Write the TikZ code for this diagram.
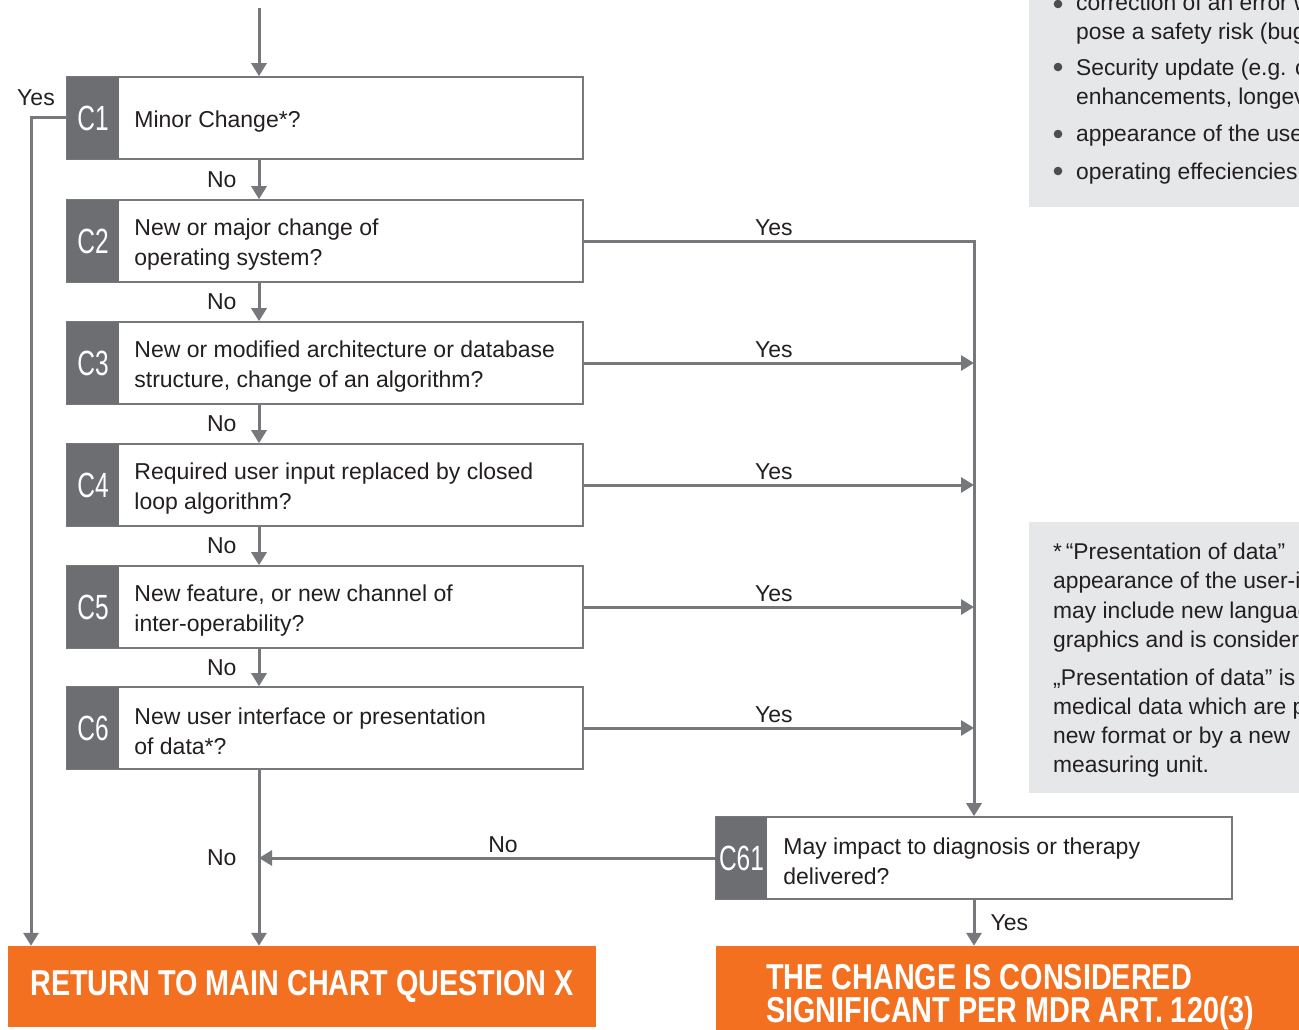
\documentclass[tikz,border=0pt]{standalone}
\usepackage{fontspec}
\setmainfont{Liberation Sans}
\newfontfamily\tagfam{Liberation Sans}[FakeStretch=0.7]
\newfontfamily\bigfam{Liberation Sans}[FakeStretch=0.8]
\usetikzlibrary{arrows.meta,positioning,calc}
\definecolor{ink}{HTML}{231F20}
\definecolor{linegray}{HTML}{77787B}
\definecolor{taggray}{HTML}{6D6E71}
\definecolor{brand}{HTML}{F37021}
\definecolor{boxgray}{HTML}{E6E7E8}
\tikzset{
  qbox/.style={draw=linegray, line width=1.6pt, fill=white, minimum width=516pt, minimum height=82pt, inner sep=0pt},
  tagbox/.style={fill=taggray, minimum width=52pt, minimum height=82pt, inner sep=0pt, text=white, font=\tagfam\fontsize{35pt}{35pt}\selectfont},
  qtext/.style={anchor=west, align=left, inner sep=0pt, text=ink, yshift=-3.5pt, font=\fontsize{23pt}{29.5pt}\selectfont},
  lbl/.style={inner sep=0pt, text=ink, font=\fontsize{23pt}{27pt}\selectfont},
  conn/.style={draw=linegray, line width=3pt, -{Triangle[length=13pt,width=15pt]}},
  outbox/.style={fill=brand, inner sep=0pt, text=white, font=\bigfam\bfseries\fontsize{36pt}{33pt}\selectfont},
  note/.style={anchor=base west, inner sep=0pt, text=ink, font=\fontsize{22.8pt}{29pt}\selectfont},
  dot/.style={fill=ink!80}
}
\begin{document}
\begin{tikzpicture}[x=1pt,y=-1pt]
\useasboundingbox (0,0) rectangle (1299,1030);
\clip (0,0) rectangle (1299,1030);

% side notes
\fill[boxgray] (1029,-10) rectangle (1320,207);
\fill[boxgray] (1029,522) rectangle (1320,793);

\fill[dot] (1058,4) circle (4.3pt);
\node[note] (n1a) at (1076,11) {correction of an error which does not};
\node[note] (n1b) at (1076,40) {pose a safety risk (bug fix)};
\fill[dot] (1058,67) circle (4.3pt);
\node[note] (n2a) at (1076,76) {Security update (e.g. cybersecurity};
\node[note] (n2b) at (1076,105) {enhancements, longevity)};
\fill[dot] (1058,134) circle (4.3pt);
\node[note] (n3) at (1076,142) {appearance of the user interface};
\fill[dot] (1058,171) circle (4.3pt);
\node[note] (n4) at (1076,179) {operating effeciencies};

\node[note] (m1) at (1053,559) {*\,“Presentation of data”\ \ refers to the};
\node[note] (m2) at (1053,588) {appearance of the user-interface and};
\node[note] (m3) at (1053,618) {may include new language, layout,};
\node[note] (m4) at (1053,647) {graphics and is considered minor.};
\node[note] (m5) at (1053,685) {„Presentation of data” is a change of};
\node[note] (m6) at (1053,714) {medical data which are presented in a};
\node[note] (m7) at (1053,743) {new format or by a new};
\node[note] (m8) at (1053,772) {measuring unit.};

% question boxes
\node[qbox] (c1) at (325,118) {};
\node[tagbox] (c1t) at (93,118) {C1};
\node[qtext, right=15pt of c1t] (c1q) {Minor Change*?};

\node[qbox] (c2) at (325,241) {};
\node[tagbox] (c2t) at (93,241) {C2};
\node[qtext, right=15pt of c2t] (c2q) {New or major change of\\operating system?};

\node[qbox] (c3) at (325,363) {};
\node[tagbox] (c3t) at (93,363) {C3};
\node[qtext, right=15pt of c3t] (c3q) {New or modified architecture or database\\structure, change of an algorithm?};

\node[qbox] (c4) at (325,485) {};
\node[tagbox] (c4t) at (93,485) {C4};
\node[qtext, right=15pt of c4t] (c4q) {Required user input replaced by closed\\loop algorithm?};

\node[qbox] (c5) at (325,607) {};
\node[tagbox] (c5t) at (93,607) {C5};
\node[qtext, right=15pt of c5t] (c5q) {New feature, or new channel of\\inter-operability?};

\node[qbox] (c6) at (325,728) {};
\node[tagbox] (c6t) at (93,728) {C6};
\node[qtext, right=15pt of c6t] (c6q) {New user interface or presentation\\of data*?};

\node[qbox] (c61) at (974,858) {};
\node[tagbox, minimum width=51pt] (c61t) at (741.5,858) {C61};
\node[qtext, right=16pt of c61t] (c61q) {May impact to diagnosis or therapy\\delivered?};

% outcome boxes
\node[outbox, minimum width=588pt, minimum height=81pt] (ret) at (302,986.5) {RETURN TO MAIN CHART QUESTION X};
\node[outbox, minimum width=604pt, minimum height=94pt] (sig) at (1018,993) {};
\node[outbox, anchor=west, align=left, fill=none, font=\bigfam\bfseries\fontsize{36pt}{33pt}\selectfont] (sigt) at (766,997) {THE CHANGE IS CONSIDERED\\SIGNIFICANT PER MDR ART. 120(3)};

% spine
\coordinate (spine) at (259,8);
\coordinate (yesx) at (31,118);
\draw[conn] (spine) -- (spine |- c1.north);
\draw[conn] (spine |- c1.south) -- node[lbl, midway, left=21pt] {No} (spine |- c2.north);
\draw[conn] (spine |- c2.south) -- node[lbl, midway, left=21pt] {No} (spine |- c3.north);
\draw[conn] (spine |- c3.south) -- node[lbl, midway, left=21pt] {No} (spine |- c4.north);
\draw[conn] (spine |- c4.south) -- node[lbl, midway, left=21pt] {No} (spine |- c5.north);
\draw[conn] (spine |- c5.south) -- node[lbl, midway, left=21pt] {No} (spine |- c6.north);
\draw[conn] (spine |- c6.south) -- node[lbl, midway, left=21pt] {No} (spine |- ret.north);

% C1 yes
\draw[conn] (c1.west) -- (yesx) -- (yesx |- ret.north);
\node[lbl] (yes1) at (36,98) {Yes};

% yes branches
\draw[conn] (c2.east) -- node[lbl, pos=0.487, above=4pt] {Yes} (c2.east -| c61.north) -- (c61.north);
\draw[conn] (c3.east) -- node[lbl, pos=0.487, above=4pt] {Yes} (c3.east -| c61.north);
\draw[conn] (c4.east) -- node[lbl, pos=0.487, above=4pt] {Yes} (c4.east -| c61.north);
\draw[conn] (c5.east) -- node[lbl, pos=0.487, above=4pt] {Yes} (c5.east -| c61.north);
\draw[conn] (c6.east) -- node[lbl, pos=0.487, above=4pt] {Yes} (c6.east -| c61.north);

% C61 outcomes
\draw[conn] (c61.west) -- node[lbl, pos=0.465, above=4pt] {No} (c61.west -| spine);
\draw[conn] (c61.south) -- node[lbl, midway, right=15pt] {Yes} (c61.south |- sig.north);
\end{tikzpicture}
\end{document}
